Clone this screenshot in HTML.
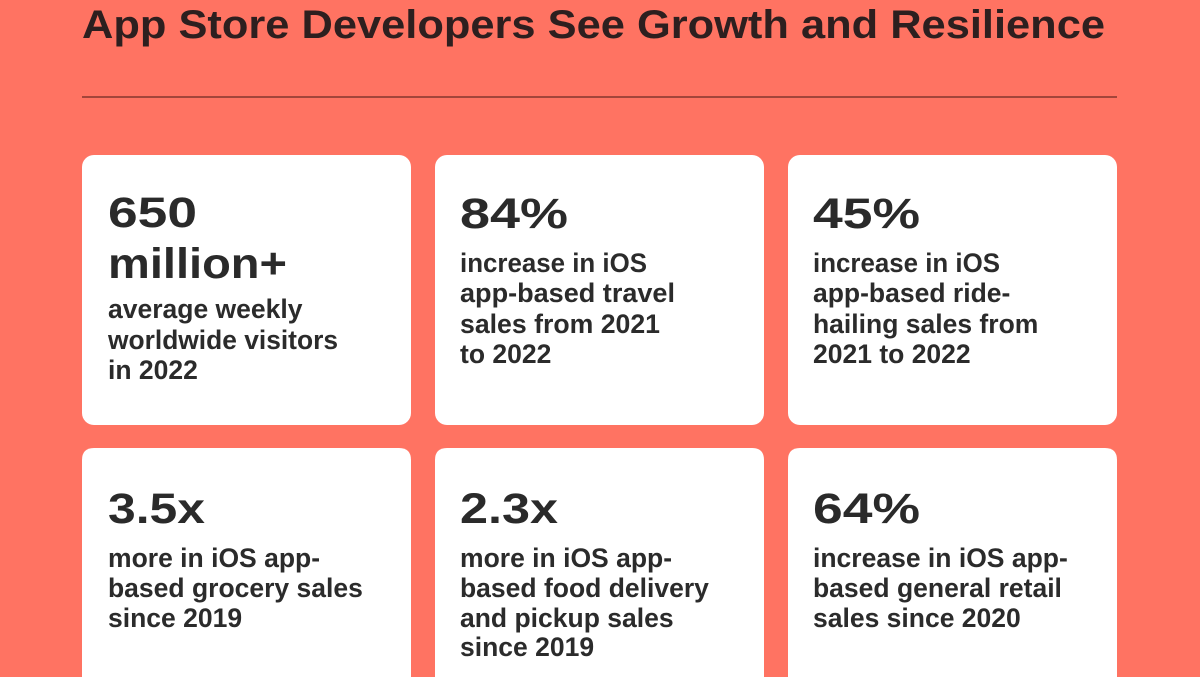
<!DOCTYPE html>
<html>
<head>
<meta charset="utf-8">
<style>
  html,body{margin:0;padding:0;background:#FF7362;}
  body{width:1200px;height:677px;overflow:hidden;}
  svg{display:block;}
  text{font-family:"Liberation Sans",Arial,sans-serif;font-weight:bold;}
  .t{fill:#2d1f1f;font-size:40px;}
  .n{fill:#2a2a2a;font-size:43px;}
  .d{fill:#2b2b2b;font-size:26.5px;}
</style>
</head>
<body>
<svg width="1200" height="677" viewBox="0 0 1200 677" xmlns="http://www.w3.org/2000/svg">
  <rect x="0" y="0" width="1200" height="677" fill="#FF7362"/>
  <text class="t" x="82" y="38" textLength="1023" lengthAdjust="spacingAndGlyphs">App Store Developers See Growth and Resilience</text>
  <rect x="82" y="96" width="1035" height="2" fill="#A3453A"/>

  <!-- cards -->
  <rect x="82" y="155" width="329" height="270" rx="12" fill="#ffffff"/>
  <rect x="435" y="155" width="329" height="270" rx="12" fill="#ffffff"/>
  <rect x="788" y="155" width="329" height="270" rx="12" fill="#ffffff"/>
  <path d="M82 677 V460 Q82 448 94 448 H399 Q411 448 411 460 V677 Z" fill="#ffffff"/>
  <path d="M435 677 V460 Q435 448 447 448 H752 Q764 448 764 460 V677 Z" fill="#ffffff"/>
  <path d="M788 677 V460 Q788 448 800 448 H1105 Q1117 448 1117 460 V677 Z" fill="#ffffff"/>

  <!-- card 1 -->
  <text class="n" x="108" y="227" textLength="89" lengthAdjust="spacingAndGlyphs">650</text>
  <text class="n" x="108" y="278" textLength="179" lengthAdjust="spacingAndGlyphs">million+</text>
  <text class="d" x="108" y="318">average weekly</text>
  <text class="d" x="108" y="349" textLength="230" lengthAdjust="spacingAndGlyphs">worldwide visitors</text>
  <text class="d" x="108" y="379">in 2022</text>

  <!-- card 2 -->
  <text class="n" x="460" y="228" textLength="108" lengthAdjust="spacingAndGlyphs">84%</text>
  <text class="d" x="460" y="272" textLength="187" lengthAdjust="spacingAndGlyphs">increase in iOS</text>
  <text class="d" x="460" y="302" textLength="215" lengthAdjust="spacingAndGlyphs">app-based travel</text>
  <text class="d" x="460" y="333" textLength="200" lengthAdjust="spacingAndGlyphs">sales from 2021</text>
  <text class="d" x="460" y="363">to 2022</text>

  <!-- card 3 -->
  <text class="n" x="813" y="228" textLength="107" lengthAdjust="spacingAndGlyphs">45%</text>
  <text class="d" x="813" y="272" textLength="187" lengthAdjust="spacingAndGlyphs">increase in iOS</text>
  <text class="d" x="813" y="302">app-based ride-</text>
  <text class="d" x="813" y="333">hailing sales from</text>
  <text class="d" x="813" y="363">2021 to 2022</text>

  <!-- card 4 -->
  <text class="n" x="108" y="523" textLength="97" lengthAdjust="spacingAndGlyphs">3.5x</text>
  <text class="d" x="108" y="567">more in iOS app-</text>
  <text class="d" x="108" y="597">based grocery sales</text>
  <text class="d" x="108" y="627">since 2019</text>

  <!-- card 5 -->
  <text class="n" x="460" y="523" textLength="98" lengthAdjust="spacingAndGlyphs">2.3x</text>
  <text class="d" x="460" y="567">more in iOS app-</text>
  <text class="d" x="460" y="597">based food delivery</text>
  <text class="d" x="460" y="627">and pickup sales</text>
  <text class="d" x="460" y="656">since 2019</text>

  <!-- card 6 -->
  <text class="n" x="813" y="523" textLength="107" lengthAdjust="spacingAndGlyphs">64%</text>
  <text class="d" x="813" y="567">increase in iOS app-</text>
  <text class="d" x="813" y="597">based general retail</text>
  <text class="d" x="813" y="627">sales since 2020</text>
</svg>
</body>
</html>
